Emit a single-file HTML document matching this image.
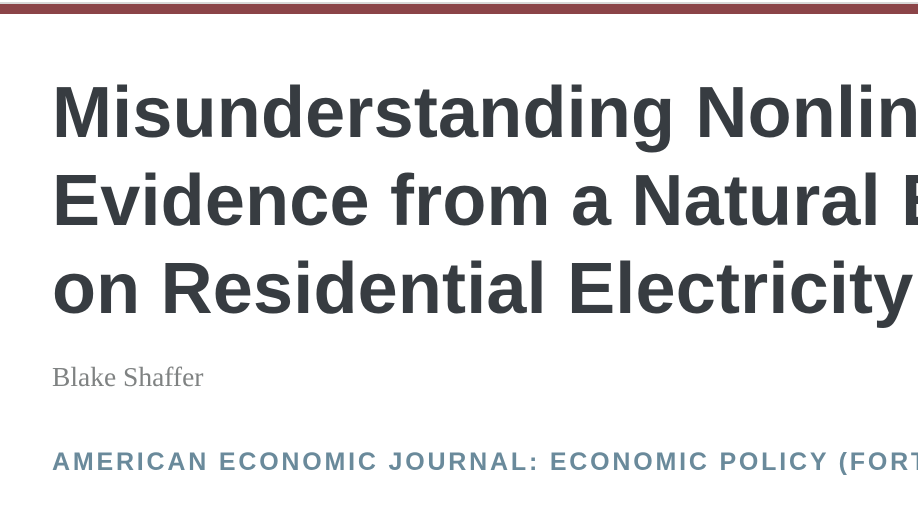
<!DOCTYPE html>
<html><head><meta charset="utf-8"><style>
html,body{margin:0;padding:0;width:918px;height:517px;overflow:hidden;background:#fff;}
#page{position:relative;width:918px;height:517px;overflow:hidden;}
#topline{position:absolute;left:0;top:2px;width:918px;height:2px;background:#d8d8d8;}
#bar{position:absolute;left:0;top:4px;width:918px;height:10px;background:#8b4448;}
.t{position:absolute;left:52px;white-space:nowrap;font-family:"Liberation Sans",sans-serif;font-weight:bold;font-size:72px;letter-spacing:0.2px;color:#373c41;line-height:1;}
#author{position:absolute;left:52px;top:361px;white-space:nowrap;font-family:"Liberation Serif",serif;font-size:27.5px;color:#7f8282;}
#journal{position:absolute;left:52px;top:448px;white-space:nowrap;font-family:"Liberation Sans",sans-serif;font-weight:bold;font-size:25px;letter-spacing:2.8px;color:#6a8a9b;}
</style></head><body>
<div id="page">
<div id="topline"></div>
<div id="bar"></div>
<div class="t" style="top:77px">Misunderstanding Nonlinear Prices:</div>
<div class="t" style="top:165px">Evidence from a Natural Experiment</div>
<div class="t" style="top:253px">on Residential Electricity Demand</div>
<div id="author">Blake Shaffer</div>
<div id="journal">AMERICAN ECONOMIC JOURNAL: ECONOMIC POLICY (FORTHCOMING)</div>
</div>
</body></html>
